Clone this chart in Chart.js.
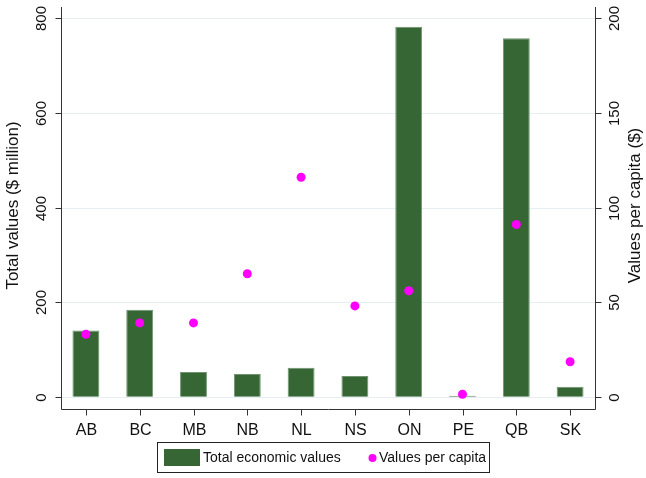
<!DOCTYPE html>
<html>
<head>
<meta charset="utf-8">
<script src="https://cdn.jsdelivr.net/npm/chart.js@4"></script>
<style>
  html, body { margin: 0; padding: 0; background: #fff; }
  #wrap { width: 646px; height: 478px; }
</style>
</head>
<body>
<div id="wrap"><canvas id="chart"></canvas></div>
<script>
const provinces = ['AB', 'BC', 'MB', 'NB', 'NL', 'NS', 'ON', 'PE', 'QB', 'SK'];
const totalValues = [140, 184, 52, 48, 61, 44, 782, 2, 758, 21];
const perCapita = [33, 39, 39, 65, 116, 48, 56, 1.3, 91, 18.5];
const leftTicks = [0, 200, 400, 600, 800];
const rightTicks = [0, 50, 100, 150, 200];

const FONT = '"Liberation Sans", Arial, sans-serif';
const GREEN = '#356634';
const MAGENTA = '#ff00ff';

// axes, grid, labels and legend drawn by hand in the Stata look
const stataFrame = {
  id: 'stataFrame',
  beforeDatasetsDraw(chart) {
    const { ctx, chartArea: a, scales } = chart;
    const xl = a.left + 2, xr = a.right - 2;
    ctx.save();
    ctx.strokeStyle = '#e6eef1';
    ctx.lineWidth = 1;
    leftTicks.forEach(v => {
      const y = Math.round(scales.y.getPixelForValue(v)) + 0.5;
      ctx.beginPath(); ctx.moveTo(xl, y); ctx.lineTo(xr, y); ctx.stroke();
    });
    ctx.restore();
  },
  afterDraw(chart) {
    const { ctx, chartArea: a, scales } = chart;
    const xl = Math.round(a.left + 2) + 0.5, xr = Math.round(a.right - 2) + 0.5;
    const yb = Math.round(a.bottom) + 0.5;
    ctx.save();
    ctx.strokeStyle = '#333';
    ctx.lineWidth = 1;
    ctx.beginPath();
    ctx.moveTo(xl, a.top); ctx.lineTo(xl, yb); ctx.lineTo(xr, yb); ctx.lineTo(xr, a.top);
    ctx.stroke();

    ctx.fillStyle = '#111';
    ctx.font = '15px ' + FONT;
    ctx.textAlign = 'center';
    ctx.textBaseline = 'middle';

    // left axis
    leftTicks.forEach(v => {
      const y = Math.round(scales.y.getPixelForValue(v)) + 0.5;
      ctx.beginPath(); ctx.moveTo(xl - 6, y); ctx.lineTo(xl, y); ctx.stroke();
      ctx.save(); ctx.translate(41, y); ctx.rotate(-Math.PI / 2);
      ctx.fillText(String(v), 0, 1); ctx.restore();
    });
    // right axis
    rightTicks.forEach(v => {
      const y = Math.round(scales.y2.getPixelForValue(v)) + 0.5;
      ctx.beginPath(); ctx.moveTo(xr, y); ctx.lineTo(xr + 6, y); ctx.stroke();
      ctx.save(); ctx.translate(614, y); ctx.rotate(-Math.PI / 2);
      ctx.fillText(String(v), 0, 1); ctx.restore();
    });
    // titles
    ctx.font = '17px ' + FONT;
    const midY = (scales.y.getPixelForValue(0) + scales.y.getPixelForValue(800)) / 2;
    ctx.save(); ctx.translate(12, midY - 2); ctx.rotate(-Math.PI / 2);
    ctx.fillText('Total values ($ million)', 0, 1); ctx.restore();
    ctx.save(); ctx.translate(634, midY - 2); ctx.rotate(-Math.PI / 2);
    ctx.fillText('Values per capita ($)', 0, 1); ctx.restore();

    // bottom axis
    ctx.font = '16px ' + FONT;
    ctx.textBaseline = 'alphabetic';
    provinces.forEach((p, i) => {
      const x = Math.round(scales.x.getPixelForValue(i)) + 0.5;
      ctx.beginPath(); ctx.moveTo(x, yb); ctx.lineTo(x, yb + 6); ctx.stroke();
      ctx.fillText(p, x, 435);
    });

    // legend
    ctx.strokeStyle = '#222';
    ctx.strokeRect(157.5, 442.5, 332, 30);
    ctx.fillStyle = GREEN;
    ctx.fillRect(164, 449, 36, 17);
    ctx.fillStyle = MAGENTA;
    ctx.beginPath(); ctx.arc(372.5, 458, 4, 0, Math.PI * 2); ctx.fill();
    ctx.fillStyle = '#111';
    ctx.font = '14px ' + FONT;
    ctx.textAlign = 'left';
    ctx.textBaseline = 'middle';
    ctx.fillText('Total economic values', 203, 458);
    ctx.fillText('Values per capita', 379, 458);
    ctx.restore();
  }
};

new Chart(document.getElementById('chart'), {
  type: 'bar',
  data: {
    labels: provinces,
    datasets: [
      {
        type: 'line',
        label: 'Values per capita',
        data: perCapita,
        yAxisID: 'y2',
        showLine: false,
        pointRadius: 4.5,
        pointBackgroundColor: MAGENTA,
        pointBorderWidth: 0,
        order: 0
      },
      {
        label: 'Total economic values',
        data: totalValues,
        yAxisID: 'y',
        backgroundColor: GREEN,
        borderColor: '#6f946f',
        borderWidth: 1,
        categoryPercentage: 1,
        barPercentage: 0.5,
        order: 1
      }
    ]
  },
  options: {
    responsive: true,
    maintainAspectRatio: false,
    animation: false,
    layout: { padding: { left: 59, right: 49, top: 7, bottom: 69 } },
    plugins: { legend: { display: false }, tooltip: { enabled: false } },
    scales: {
      x: { display: false, offset: true },
      y: { display: false, min: -26, max: 824 },
      y2: { display: false, position: 'right', min: -6.5, max: 206 }
    }
  },
  plugins: [stataFrame]
});
</script>
</body>
</html>
